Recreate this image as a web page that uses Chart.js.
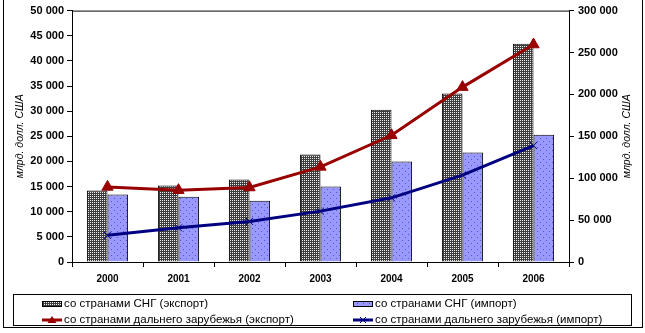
<!DOCTYPE html>
<html>
<head>
<meta charset="utf-8">
<script src="https://cdn.jsdelivr.net/npm/chart.js@4/dist/chart.umd.min.js"></script>
<style>
html,body{margin:0;padding:0;background:#fff;}
#wrap{position:relative;width:645px;height:333px;}
</style>
</head>
<body>
<div id="wrap"><canvas id="c" width="645" height="333"></canvas></div>
<script>
const years = ['2000', '2001', '2002', '2003', '2004', '2005', '2006'];
const cisExport = [14200, 15200, 16400, 21400, 30300, 33500, 43400];
const cisImport = [13400, 13000, 12200, 15000, 20000, 21800, 25300];
const farExport = [89600, 85700, 88900, 113500, 151200, 208700, 259500];
const farImport = [31800, 40800, 48400, 60700, 76600, 103600, 138900];
const seriesNames = [
  'со странами СНГ (экспорт)',
  'со странами СНГ (импорт)',
  'со странами дальнего зарубежья (экспорт)',
  'со странами дальнего зарубежья (импорт)'
];
const axisTitle = 'млрд. долл. США';

const FONT = "'Liberation Sans', Arial, sans-serif";
const RED = '#990000';
const NAVY = '#000080';

function makePattern(w, h, bg, fg, dots) {
  const pc = document.createElement('canvas');
  pc.width = w; pc.height = h;
  const p = pc.getContext('2d');
  p.fillStyle = bg; p.fillRect(0, 0, w, h);
  p.fillStyle = fg;
  dots.forEach(d => p.fillRect(d[0], d[1], 1, 1));
  return document.getElementById('c').getContext('2d').createPattern(pc, 'repeat');
}
const patExport = makePattern(2, 2, '#3e3e3e', '#f0f0f0', [[0, 0]]);
const patImport = makePattern(6, 6, '#9999ff', '#5555bb', [[0, 0], [3, 3]]);

function fmt(v) {
  return String(v).replace(/\B(?=(\d{3})+(?!\d))/g, '\u00a0');
}

const framePlugin = {
  id: 'frame',
  afterDraw(chart) {
    const c = chart.ctx;
    const a = chart.chartArea;
    c.save();
    c.strokeStyle = '#000';
    c.lineWidth = 1;
    // top line of plot area
    c.beginPath();
    c.moveTo(a.left, a.top + 0.5);
    c.lineTo(a.right, a.top + 0.5);
    c.stroke();
    // outer border
    c.strokeRect(3.5, -5, 639, 332.5);
    // axis titles
    c.fillStyle = '#000';
    c.font = 'italic 10.5px ' + FONT;
    c.textAlign = 'center';
    c.textBaseline = 'middle';
    const cy = (a.top + a.bottom) / 2;
    c.save(); c.translate(20, cy); c.rotate(-Math.PI / 2); c.fillText(axisTitle, 0, 0); c.restore();
    c.save(); c.translate(627, cy); c.rotate(-Math.PI / 2); c.fillText(axisTitle, 0, 0); c.restore();
    // legend box
    c.strokeRect(13.5, 294.5, 618, 31);
    c.font = '11.5px ' + FONT;
    c.textAlign = 'left';
    c.textBaseline = 'middle';
    const rows = [304, 320];
    const cols = [[42, 64], [353, 375]];
    // bar swatches
    c.fillStyle = patExport;
    c.fillRect(cols[0][0], rows[0] - 3, 20, 6);
    c.strokeRect(cols[0][0] + 0.5, rows[0] - 2.5, 19, 5);
    c.fillStyle = patImport;
    c.fillRect(cols[1][0], rows[0] - 3, 20, 6);
    c.strokeRect(cols[1][0] + 0.5, rows[0] - 2.5, 19, 5);
    // line swatches
    c.lineWidth = 3;
    c.strokeStyle = RED;
    c.beginPath(); c.moveTo(cols[0][0], rows[1]); c.lineTo(cols[0][0] + 20, rows[1]); c.stroke();
    c.fillStyle = RED;
    c.beginPath();
    const tx = cols[0][0] + 10, ty = rows[1];
    c.moveTo(tx, ty - 4); c.lineTo(tx + 4.5, ty + 3); c.lineTo(tx - 4.5, ty + 3); c.closePath(); c.fill();
    c.strokeStyle = NAVY;
    c.beginPath(); c.moveTo(cols[1][0], rows[1]); c.lineTo(cols[1][0] + 20, rows[1]); c.stroke();
    c.lineWidth = 1;
    const nx = cols[1][0] + 10, ny = rows[1];
    c.beginPath(); c.moveTo(nx - 3, ny - 3); c.lineTo(nx + 3, ny + 3); c.moveTo(nx + 3, ny - 3); c.lineTo(nx - 3, ny + 3); c.stroke();
    // texts
    c.fillStyle = '#000';
    c.fillText(seriesNames[0], cols[0][1], rows[0]);
    c.fillText(seriesNames[1], cols[1][1], rows[0]);
    c.fillText(seriesNames[2], cols[0][1], rows[1]);
    c.fillText(seriesNames[3], cols[1][1], rows[1]);
    c.restore();
  }
};

new Chart(document.getElementById('c'), {
  type: 'bar',
  data: {
    labels: years,
    datasets: [
      { type: 'line', label: seriesNames[2], data: farExport, yAxisID: 'y2', order: 0,
        borderColor: RED, backgroundColor: RED, borderWidth: 3, tension: 0,
        pointStyle: 'triangle', pointRadius: 6.5, pointBorderWidth: 1, pointBackgroundColor: RED, pointBorderColor: RED },
      { type: 'line', label: seriesNames[3], data: farImport, yAxisID: 'y2', order: 0,
        borderColor: NAVY, backgroundColor: NAVY, borderWidth: 3, tension: 0,
        pointStyle: 'crossRot', pointRadius: 5, pointBorderWidth: 1, pointBorderColor: NAVY },
      { label: seriesNames[0], data: cisExport, yAxisID: 'y', order: 1,
        backgroundColor: patExport, borderColor: '#000', borderWidth: 1,
        barPercentage: 1, categoryPercentage: 0.58 },
      { label: seriesNames[1], data: cisImport, yAxisID: 'y', order: 1,
        backgroundColor: patImport, borderColor: '#000', borderWidth: 1,
        barPercentage: 1, categoryPercentage: 0.58 }
    ]
  },
  options: {
    responsive: false,
    animation: false,
    devicePixelRatio: 1,
    layout: { padding: { top: 10, left: 0, right: 0, bottom: 0 } },
    plugins: { legend: { display: false }, tooltip: { enabled: false } },
    scales: {
      x: {
        offset: true,
        grid: { display: true, offset: true, drawOnChartArea: false, drawTicks: true, tickLength: 5, color: '#000' },
        border: { display: true, color: '#000', width: 1 },
        ticks: { color: '#000', font: { family: FONT, size: 10, weight: 'bold' }, padding: 6, maxRotation: 0 },
        afterFit(s) { s.height = 71; }
      },
      y: {
        position: 'left',
        min: 0, max: 50000,
        grid: { drawOnChartArea: false, drawTicks: true, tickLength: 5, color: '#000' },
        border: { display: true, color: '#000', width: 1 },
        ticks: { stepSize: 5000, color: '#000', padding: 3, font: { family: FONT, size: 11, weight: 'bold' },
                 callback: v => fmt(v) },
        afterFit(s) { s.width = 72; }
      },
      y2: {
        position: 'right',
        min: 0, max: 300000,
        grid: { drawOnChartArea: false, drawTicks: true, tickLength: 5, color: '#000' },
        border: { display: true, color: '#000', width: 1 },
        ticks: { stepSize: 50000, color: '#000', padding: 4, font: { family: FONT, size: 11, weight: 'bold' },
                 callback: v => fmt(v) },
        afterFit(s) { s.width = 76; }
      }
    }
  },
  plugins: [framePlugin]
});
</script>
</body>
</html>
